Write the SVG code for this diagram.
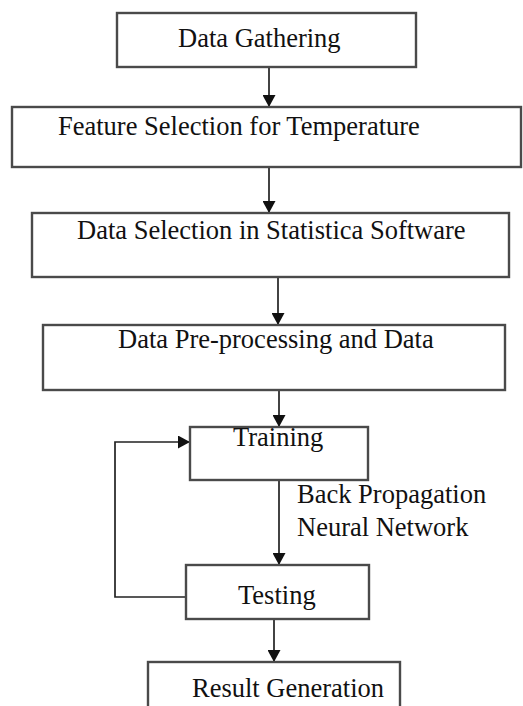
<svg xmlns="http://www.w3.org/2000/svg" width="523" height="706" viewBox="0 0 523 706">
  <defs>
    <marker id="arrow" markerUnits="userSpaceOnUse" markerWidth="12" markerHeight="13" viewBox="0 0 12 13" refX="12" refY="6.5" orient="auto">
      <path d="M0,0 L12,6.5 L0,13 Z" fill="#111"/>
    </marker>
    <style>
      .box { fill: #fff; stroke: #4a4a4a; stroke-width: 2.4; }
      .lbl { font-family: "Liberation Serif", "Times New Roman", serif; font-size: 26.5px; fill: #111; }
      .edge { fill: none; stroke: #222; stroke-width: 1.7; }
      .arr { marker-end: url(#arrow); }
    </style>
  </defs>
  <rect width="523" height="706" fill="#fff"/>

  <g id="connectors">
    <line class="edge arr" x1="269" y1="67" x2="269" y2="107"/>
    <line class="edge arr" x1="269" y1="167" x2="269" y2="213"/>
    <line class="edge arr" x1="278" y1="277" x2="278" y2="325"/>
    <line class="edge arr" x1="279" y1="390" x2="279" y2="427"/>
    <line class="edge arr" x1="279" y1="480" x2="279" y2="565"/>
    <line class="edge arr" x1="274" y1="619" x2="274" y2="662"/>
    <polyline class="edge arr" points="186,597 115,597 115,442 190,442"/>
  </g>

  <g id="data-gathering">
    <rect class="box" x="117" y="13" width="299" height="54"/>
    <text class="lbl" x="178" y="47">Data Gathering</text>
  </g>

  <g id="feature-selection">
    <rect class="box" x="12" y="107" width="509" height="60"/>
    <text class="lbl" x="58" y="135">Feature Selection for Temperature</text>
  </g>

  <g id="data-selection">
    <rect class="box" x="32" y="213" width="477" height="64"/>
    <text class="lbl" x="77" y="239">Data Selection in Statistica Software</text>
  </g>

  <g id="pre-processing">
    <rect class="box" x="43" y="325" width="462" height="65"/>
    <text class="lbl" x="118" y="348">Data Pre-processing and Data</text>
  </g>

  <g id="training">
    <rect class="box" x="190" y="427" width="178" height="53"/>
    <text class="lbl" x="233" y="446">Training</text>
  </g>

  <g id="bpnn-label">
    <text class="lbl" x="297" y="503">Back Propagation</text>
    <text class="lbl" x="297" y="536">Neural Network</text>
  </g>

  <g id="testing">
    <rect class="box" x="186" y="565" width="183" height="54"/>
    <text class="lbl" x="238" y="604">Testing</text>
  </g>

  <g id="result-generation">
    <rect class="box" x="148" y="662" width="252" height="60"/>
    <text class="lbl" x="192" y="697">Result Generation</text>
  </g>
</svg>
